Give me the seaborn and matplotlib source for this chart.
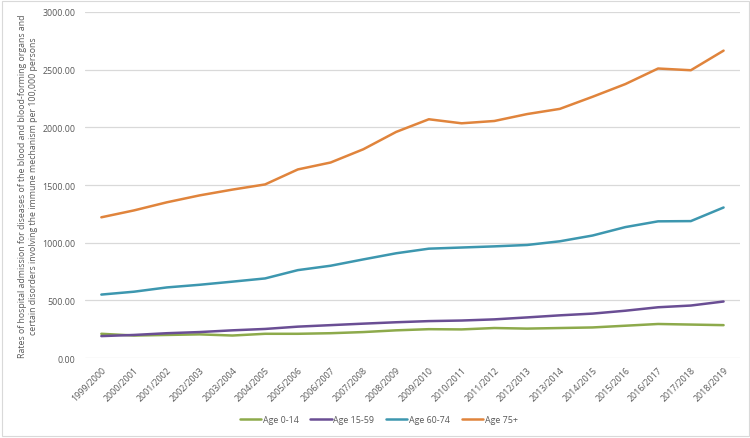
import pandas as pd
import numpy as np
import matplotlib
matplotlib.use("Agg")
import matplotlib.pyplot as plt
import seaborn as sns

# Years (financial years) on the x axis
anios = ["1999/2000", "2000/2001", "2001/2002", "2002/2003", "2003/2004",
         "2004/2005", "2005/2006", "2006/2007", "2007/2008", "2008/2009",
         "2009/2010", "2010/2011", "2011/2012", "2012/2013", "2013/2014",
         "2014/2015", "2015/2016", "2016/2017", "2017/2018", "2018/2019"]

# Rates per 100,000 persons
edad_0_14 = [210, 195, 200, 205, 195, 210, 210, 215, 225, 240,
             250, 248, 260, 255, 260, 265, 280, 295, 290, 285]
edad_15_59 = [190, 200, 215, 225, 240, 252, 272, 285, 298, 310,
              320, 325, 335, 352, 370, 385, 410, 440, 455, 490]
edad_60_74 = [550, 575, 612, 635, 662, 690, 762, 800, 855, 908,
              948, 958, 968, 980, 1012, 1062, 1135, 1185, 1187, 1305]
edad_75 = [1220, 1280, 1350, 1410, 1460, 1505, 1635, 1695, 1810, 1960,
           2070, 2035, 2055, 2115, 2160, 2265, 2375, 2510, 2495, 2665]

grupos = ["Age 0-14", "Age 15-59", "Age 60-74", "Age 75+"]
colores = ["#8DAA4B", "#6A4E94", "#3D97AF", "#E0843C"]

df = pd.DataFrame({
    "anio": anios * 4,
    "valor": edad_0_14 + edad_15_59 + edad_60_74 + edad_75,
    "grupo": np.repeat(grupos, len(anios)),
})

sns.set_style("white")
plt.rcParams["font.family"] = ["Open Sans", "DejaVu Sans"]

fig = plt.figure(figsize=(7.5, 4.39), dpi=100)
ax = fig.add_axes([0.1133, 0.1822, 0.8733, 0.7882])

sns.lineplot(data=df, x="anio", y="valor", hue="grupo", palette=colores,
             linewidth=1.8, sort=False, ax=ax, legend=False)

ax.set_ylim(0, 3000)
ax.set_xlim(-0.5, len(anios) - 0.5)
ax.set_yticks(np.arange(0, 3001, 500))
ax.set_yticklabels([f"{v:.2f}" for v in np.arange(0, 3001, 500)])
ax.yaxis.grid(True, color="#D9D9D9", linewidth=0.9)
ax.set_axisbelow(True)
for lado in ["top", "right", "left", "bottom"]:
    ax.spines[lado].set_visible(False)

ax.tick_params(axis="both", length=0, labelsize=6.4, colors="#595959", pad=7)
ax.tick_params(axis="x", pad=5)
plt.setp(ax.get_xticklabels(), rotation=45, ha="right", rotation_mode="anchor")
ax.set_xlabel("")
ax.set_ylabel("Rates of hospital admission for diseases of the blood and blood-forming organs and\n"
              "certain disorders involving the immune mechanism per 100,000 persons",
              fontsize=6.3, color="#595959", linespacing=1.3)
ax.yaxis.set_label_coords(-0.072, 0.5)

handles = [plt.Line2D([0], [0], color=c, linewidth=1.8) for c in colores]
fig.legend(handles, grupos, loc="center", bbox_to_anchor=(0.505, 0.043), ncol=4,
           frameon=False, fontsize=6.4, labelcolor="#595959", handlelength=2.4,
           handletextpad=0.2, columnspacing=1.3)

# borde gris claro del grafico
fig.patches.append(plt.Rectangle((0.002, 0.005), 0.996, 0.99, transform=fig.transFigure,
                                 fill=False, edgecolor="#D9D9D9", linewidth=0.8))

fig.savefig("out.png", dpi=100)
